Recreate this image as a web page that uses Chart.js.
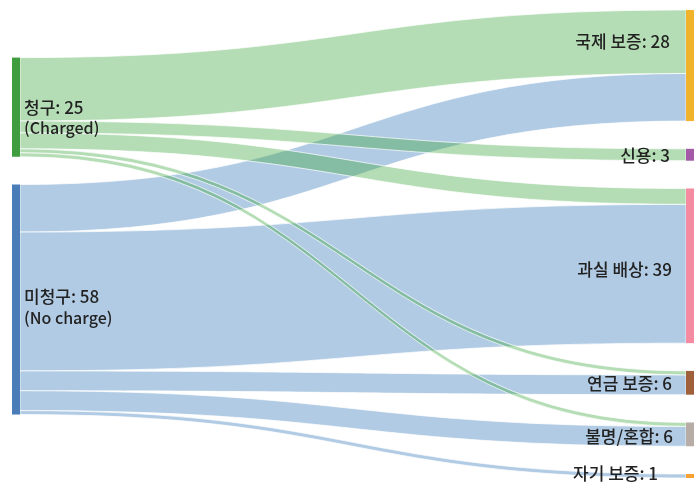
<!DOCTYPE html>
<html>
<head>
<meta charset="utf-8">
<script src="https://cdn.jsdelivr.net/npm/chart.js@4"></script>
<style>
  html, body { margin: 0; padding: 0; background: #fff; }
  #wrap { width: 698px; height: 483px; }
</style>
</head>
<body>
<div id="wrap"><canvas id="c" width="698" height="483"></canvas></div>
<script>
// ---- data ----
const nodeLabels = ['청구', '미청구', '국제 보증', '신용', '과실 배상', '연금 보증', '불명/혼합', '자기 보증'];
const nodeSubLabels = ['(Charged)', '(No charge)', '', '', '', '', '', ''];
const nodeColumn = [0, 0, 1, 1, 1, 1, 1, 1];
const linkSource = [0, 0, 0, 0, 0, 1, 1, 1, 1, 1];
const linkTarget = [2, 3, 4, 5, 6, 2, 4, 5, 6, 7];
const linkValue  = [16, 3, 4, 1, 1, 12, 35, 5, 5, 1];

// ---- style / layout constants ----
const nodeColors = ['#3f9c3f', '#4a7db8', '#f2b32c', '#a45aa6', '#f48ba0', '#a0603c', '#b8aca6', '#f5a030'];
const linkColors = ['rgba(60,165,60,0.38)', 'rgba(40,110,180,0.36)'];
const NODE_GAP = 7;           // in value units
const COLUMN_START = [12, 0]; // in value units
const NODE_W = 8;
const labelOffsets = [0, -3, -24, 1, 4, 1, 2, -2];
const labelRightEdge = [0, 0, 670, 670, 672, 672, 673, 658];

// node totals
const nodeTotal = nodeLabels.map((_, i) => {
  let out = 0, inn = 0;
  linkValue.forEach((v, k) => { if (linkSource[k] === i) out += v; if (linkTarget[k] === i) inn += v; });
  return Math.max(out, inn);
});
// node positions (value units)
const nodeStart = [];
[0, 1].forEach(col => {
  let y = COLUMN_START[col];
  nodeLabels.forEach((_, i) => {
    if (nodeColumn[i] === col) { nodeStart[i] = y; y += nodeTotal[i] + NODE_GAP; }
  });
});
const yMax = Math.max(...nodeLabels.map((_, i) => nodeStart[i] + nodeTotal[i]));

const sankeyPlugin = {
  id: 'sankey',
  afterDatasetsDraw(chart) {
    const ctx = chart.ctx;
    const xs = chart.scales.x, ys = chart.scales.y;
    const colX = c => xs.getPixelForValue(c);
    const outOff = nodeStart.slice(), inOff = nodeStart.slice();
    const links = [];
    linkValue.forEach((v, k) => {
      const s = linkSource[k], t = linkTarget[k];
      links.push({ k, s, t, v, sy: outOff[s], ty: inOff[t] });
      outOff[s] += v; inOff[t] += v;
    });
    const order = links.slice().sort((a, b) => b.s - a.s);
    ctx.save();
    order.forEach(l => {
      const x0 = colX(nodeColumn[l.s]) + NODE_W;
      const x1 = colX(nodeColumn[l.t]) - NODE_W;
      const xm = (x0 + x1) / 2;
      const y0a = ys.getPixelForValue(l.sy), y0b = ys.getPixelForValue(l.sy + l.v);
      const y1a = ys.getPixelForValue(l.ty), y1b = ys.getPixelForValue(l.ty + l.v);
      ctx.beginPath();
      ctx.moveTo(x0, y0a);
      ctx.bezierCurveTo(xm, y0a, xm, y1a, x1, y1a);
      ctx.lineTo(x1, y1b);
      ctx.bezierCurveTo(xm, y1b, xm, y0b, x0, y0b);
      ctx.closePath();
      ctx.fillStyle = linkColors[l.s];
      ctx.fill();
      ctx.strokeStyle = 'rgba(255,255,255,0.9)';
      ctx.lineWidth = 0.8;
      ctx.stroke();
    });
    nodeLabels.forEach((_, i) => {
      const col = nodeColumn[i];
      const x = col === 0 ? colX(0) : colX(1) - NODE_W;
      const y0 = ys.getPixelForValue(nodeStart[i]);
      const y1 = ys.getPixelForValue(nodeStart[i] + nodeTotal[i]);
      ctx.fillStyle = nodeColors[i];
      ctx.fillRect(x, y0, NODE_W, y1 - y0);
    });
    ctx.fillStyle = '#222';
    ctx.textBaseline = 'middle';
    const mainFont = '500 17px "Noto Sans CJK KR", "Noto Sans", sans-serif';
    const subFont = '500 16px "Noto Sans CJK KR", "Noto Sans", sans-serif';
    nodeLabels.forEach((name, i) => {
      const cy = ys.getPixelForValue(nodeStart[i] + nodeTotal[i] / 2) + labelOffsets[i];
      const txt = name + ': ' + nodeTotal[i];
      ctx.font = mainFont;
      if (nodeColumn[i] === 0) {
        ctx.textAlign = 'left';
        const x = colX(0) + NODE_W + 4;
        ctx.fillText(txt, x, cy);
        ctx.font = subFont;
        if (nodeSubLabels[i]) ctx.fillText(nodeSubLabels[i], x, cy + 21);
      } else {
        ctx.textAlign = 'right';
        ctx.fillText(txt, labelRightEdge[i], cy);
      }
    });
    ctx.restore();
  }
};

new Chart(document.getElementById('c'), {
  type: 'scatter',
  data: { datasets: [{ data: [], showLine: false }] },
  options: {
    responsive: false,
    animation: false,
    layout: { padding: { left: 12, right: 4, top: 10, bottom: 5 } },
    plugins: { legend: { display: false }, tooltip: { enabled: false } },
    scales: {
      x: { type: 'linear', min: 0, max: 1, display: false },
      y: { type: 'linear', min: 0, max: yMax, reverse: true, display: false }
    }
  },
  plugins: [sankeyPlugin]
});
</script>
</body>
</html>
